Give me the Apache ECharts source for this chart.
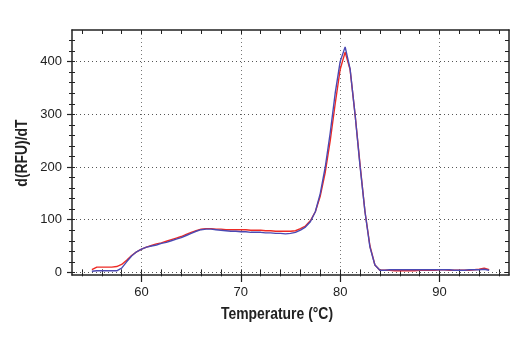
<!DOCTYPE html>
<html>
<head>
<meta charset="utf-8">
<script src="https://cdn.jsdelivr.net/npm/echarts@6/dist/echarts.min.js"></script>
<style>html,body{margin:0;padding:0;background:#fff}#c{width:520px;height:350px}</style>
</head>
<body>
<div id="c"></div>
<script>
// Temperature (°C)
var temps = [55,55.5,56,56.5,57,57.5,58,58.5,59,59.5,60,60.5,61,61.5,62,62.5,63,63.5,64,64.5,65,65.5,66,66.5,67,67.5,68,68.5,69,69.5,70,70.5,71,71.5,72,72.5,73,73.5,74,74.5,75,75.5,76,76.5,77,77.5,78,78.5,79,79.5,80,80.5,81,81.5,82,82.5,83,83.5,84,84.5,85,85.5,86,86.5,87,87.5,88,88.5,89,89.5,90,90.5,91,91.5,92,92.5,93,93.5,94,94.5,95];
// d(RFU)/dT, red trace
var redVals = [5,10,10,10,10,11,15,23,32,39,44,48,51,54,56,59,62,65,68,72,76,79,82,83,83,82,82,81,81,81,81,81,80,80,80,79,79,78,78,78,78,79,83,88,98,115,145,190,250,320,385,418,385,300,205,115,50,14,4,4,4,3,3,3,3,3,4,4,4,4,5,5,4,4,4,4,4,5,6,8,5];
// d(RFU)/dT, blue trace
var blueVals = [2,3,3,3,3,3,8,20,31,39,44,48,50,52,55,57,60,63,66,70,74,78,81,82,82,81,80,79,78,78,77,77,76,76,76,75,75,74,74,73,74,76,80,86,96,115,150,200,265,340,400,428,386,300,202,115,48,14,4,4,5,5,5,5,5,5,5,5,5,5,5,5,5,4,4,4,5,5,5,6,4];
var xTickLabels = [60,70,80,90];
var yTickLabels = [0,100,200,300,400];
var xMinor = [54,56,58,60,62,64,66,68,70,72,74,76,78,80,82,84,86,88,90,92,94,96];
var yMinor = [0,20,40,60,80,100,120,140,160,180,200,220,240,260,280,300,320,340,360,380,400,420,440];

var XMIN = 53, XMAX = 97, YMIN = -5, YMAX = 460;
var FONT = '"Liberation Sans Narrow","Liberation Sans",Arial,sans-serif';
var AX = '#222';

function pairs(xs, ys){ return xs.map(function(x,i){ return [x, ys[i]]; }); }

function xAx(opt){
  var base = {type:'value', min:XMIN, max:XMAX, gridIndex:0, position:'bottom',
    axisLine:{show:false}, axisLabel:{show:false}, splitLine:{show:false},
    axisTick:{show:false}};
  return Object.assign(base, opt);
}
function yAx(opt){
  var base = {type:'value', min:YMIN, max:YMAX, gridIndex:0, position:'left',
    axisLine:{show:false}, axisLabel:{show:false}, splitLine:{show:false},
    axisTick:{show:false}};
  return Object.assign(base, opt);
}

var chart = echarts.init(document.getElementById('c'), null, {renderer:'canvas'});
chart.setOption({
  animation:false,
  backgroundColor:'#fff',
  grid:{left:72, right:11, top:30, bottom:75, containLabel:false},
  xAxis:[
    xAx({axisLine:{show:true, onZero:false, lineStyle:{color:AX, width:1.5}},
      axisLabel:{show:true, customValues:xTickLabels, margin:11, color:'#222', fontFamily:FONT, fontSize:13},
      axisTick:{show:true, customValues:xTickLabels, length:7, lineStyle:{color:AX, width:1.2}},
      splitLine:{show:true, lineStyle:{color:'#777', width:1, type:[1,3]}}}),
    xAx({axisTick:{show:true, customValues:xMinor, length:4, lineStyle:{color:AX, width:1}}}),
    xAx({axisTick:{show:true, inside:true, customValues:xMinor, length:3, lineStyle:{color:AX, width:1}}}),
    xAx({position:'top', axisLine:{show:true, onZero:false, lineStyle:{color:AX, width:1.5}},
      axisTick:{show:true, inside:true, customValues:xMinor, length:4, lineStyle:{color:AX, width:1}}})
  ],
  yAxis:[
    yAx({axisLine:{show:true, onZero:false, lineStyle:{color:AX, width:1.5}},
      axisLabel:{show:true, customValues:yTickLabels, margin:10, color:'#222', fontFamily:FONT, fontSize:13},
      axisTick:{show:true, customValues:yTickLabels, length:5, lineStyle:{color:AX, width:1.2}},
      splitLine:{show:true, lineStyle:{color:'#555', width:1, type:[1,3]}}}),
    yAx({axisTick:{show:true, customValues:yMinor, length:3, lineStyle:{color:AX, width:1}}}),
    yAx({axisTick:{show:true, inside:true, customValues:yMinor, length:3, lineStyle:{color:AX, width:1}}}),
    yAx({position:'right', axisLine:{show:true, onZero:false, lineStyle:{color:AX, width:1.5}},
      axisTick:{show:true, inside:true, customValues:yMinor, length:4, lineStyle:{color:AX, width:1}}})
  ],
  series:[
    {type:'line', xAxisIndex:0, yAxisIndex:0, data:pairs(temps, redVals), showSymbol:false, symbol:'none',
      lineStyle:{color:'#ee2a24', width:1.4}, z:3},
    {type:'line', xAxisIndex:0, yAxisIndex:0, data:pairs(temps, blueVals), showSymbol:false, symbol:'none',
      lineStyle:{color:'#4b49b3', width:1.4}, z:4}
  ],
  graphic:[
    {type:'text', x:277, y:315, scaleX:0.87, style:{text:'Temperature (°C)', font:'bold 16px '+FONT, fill:'#222', textAlign:'center', textVerticalAlign:'middle'}},
    {type:'text', x:23, y:153, rotation:Math.PI/2, scaleX:0.87, style:{text:'d(RFU)/dT', font:'bold 16px '+FONT, fill:'#222', textAlign:'center', textVerticalAlign:'middle'}}
  ]
});
</script>
</body>
</html>
